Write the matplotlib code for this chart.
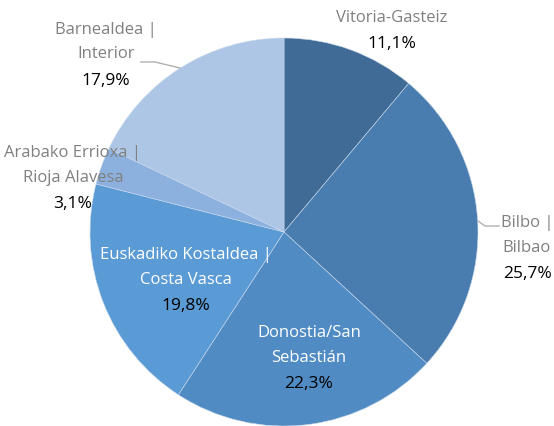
import matplotlib
matplotlib.use('Agg')
import matplotlib.pyplot as plt

# data
names = ['Vitoria-Gasteiz', 'Bilbo |\nBilbao', 'Donostia/San\nSebastián',
         'Euskadiko Kostaldea |\nCosta Vasca', 'Arabako Errioxa |\nRioja Alavesa',
         'Barnealdea |\nInterior']
shares = [11.1, 25.7, 22.3, 19.8, 3.1, 17.9]
colors = ['#3f6b96', '#4a7daf', '#508bc4', '#5b9bd5', '#8db1de', '#adc6e6']

# label layout, in pixels from top-left of the picture
label_pos = [(392, 18), (527, 223), (309, 333), (186, 255), (73, 153), (106, 30)]
name_colors = ['#808080', '#808080', 'white', 'white', '#808080', '#808080']

W, H = 554, 426
plt.rcParams['font.family'] = ['Open Sans', 'DejaVu Sans']

fig = plt.figure(figsize=(W / 100, H / 100), dpi=100)
ax = fig.add_axes([0, 0, 1, 1])

cx, cy, r = 284, H - 232, 194
ax.pie(shares, colors=colors, startangle=90, counterclock=False,
       center=(cx, cy), radius=r, frame=True,
       wedgeprops=dict(edgecolor='#c8d8ec', linewidth=0.4))
ax.set_xlim(0, W)
ax.set_ylim(0, H)
ax.set_aspect('equal')
ax.axis('off')

line_h = 24.5
for name, val, (x, y), nc in zip(names, shares, label_pos, name_colors):
    lines = name.split('\n')
    for i, ln in enumerate(lines):
        ax.text(x, H - (y + i * line_h), ln, ha='center', va='center',
                fontsize=12, color=nc)
    vy = y + len(lines) * line_h + 2
    ax.text(x, H - vy, '{:.1f}%'.format(val).replace('.', ','), ha='center',
            va='center', fontsize=12.5, color='black')

# leader lines
ax.plot([478, 485, 499], [H - 221, H - 226, H - 226], color='#b0b0b0', lw=1)
ax.plot([141, 155, 180], [H - 62, H - 62, H - 68], color='#b0b0b0', lw=1)

fig.savefig('out.png', dpi=100)
